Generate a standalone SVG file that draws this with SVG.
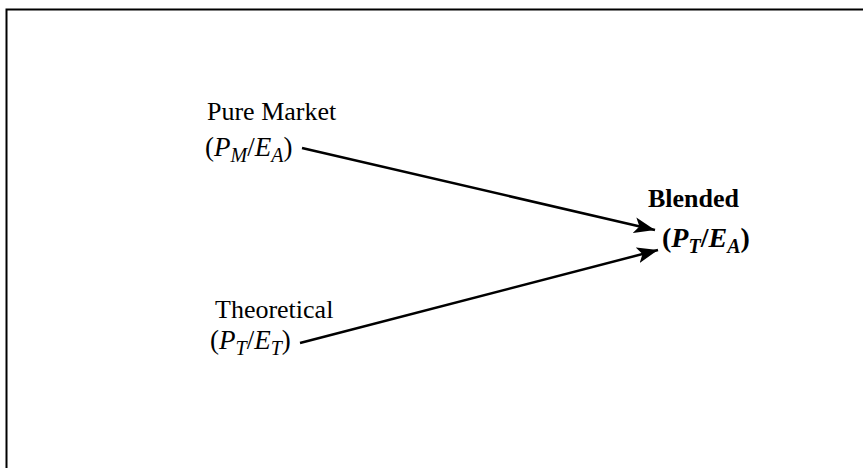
<svg xmlns="http://www.w3.org/2000/svg" width="863" height="468" viewBox="0 0 863 468">
<style>
text{font-family:"Liberation Serif","Times New Roman",serif;font-size:26px;fill:#000}
.f{font-size:27px}
.b{font-weight:bold}
.bf{font-weight:bold;font-size:28px}
.i{font-style:italic}
.s{font-size:20px;font-style:italic}
.c{stroke:#000;stroke-width:2.5;fill:none}
</style>
<defs>
<marker id="ah" markerUnits="userSpaceOnUse" markerWidth="22" markerHeight="16" refX="21" refY="8" orient="auto">
<path d="M0,0 L21,8 L0,16 L5,8 z" fill="#000"/>
</marker>
</defs>
<rect width="863" height="468" fill="#fff"/>
<path d="M6.5,468 V9.5 H863" fill="none" stroke="#000" stroke-width="2"/>
<g id="connectors">
<line class="c" x1="302" y1="148" x2="655" y2="230" marker-end="url(#ah)"/>
<line class="c" x1="300" y1="343" x2="658" y2="250" marker-end="url(#ah)"/>
</g>
<g id="pure-market">
<text x="207" y="120">Pure Market</text>
<text class="f" x="205" y="156">(<tspan class="i">P</tspan><tspan class="s" dy="6">M</tspan><tspan dy="-6">/</tspan><tspan class="i">E</tspan><tspan class="s" dy="6">A</tspan><tspan dy="-6">)</tspan></text>
</g>
<g id="theoretical">
<text x="215" y="318">Theoretical</text>
<text class="f" x="210" y="349">(<tspan class="i">P</tspan><tspan class="s" dy="6">T</tspan><tspan dy="-6">/</tspan><tspan class="i">E</tspan><tspan class="s" dy="6">T</tspan><tspan dy="-6">)</tspan></text>
</g>
<g id="blended">
<text class="b" x="648" y="207">Blended</text>
<text class="bf" x="662" y="247">(<tspan class="i">P</tspan><tspan class="s" dy="6">T</tspan><tspan dy="-6">/</tspan><tspan class="i">E</tspan><tspan class="s" dy="6">A</tspan><tspan dy="-6">)</tspan></text>
</g>
</svg>
